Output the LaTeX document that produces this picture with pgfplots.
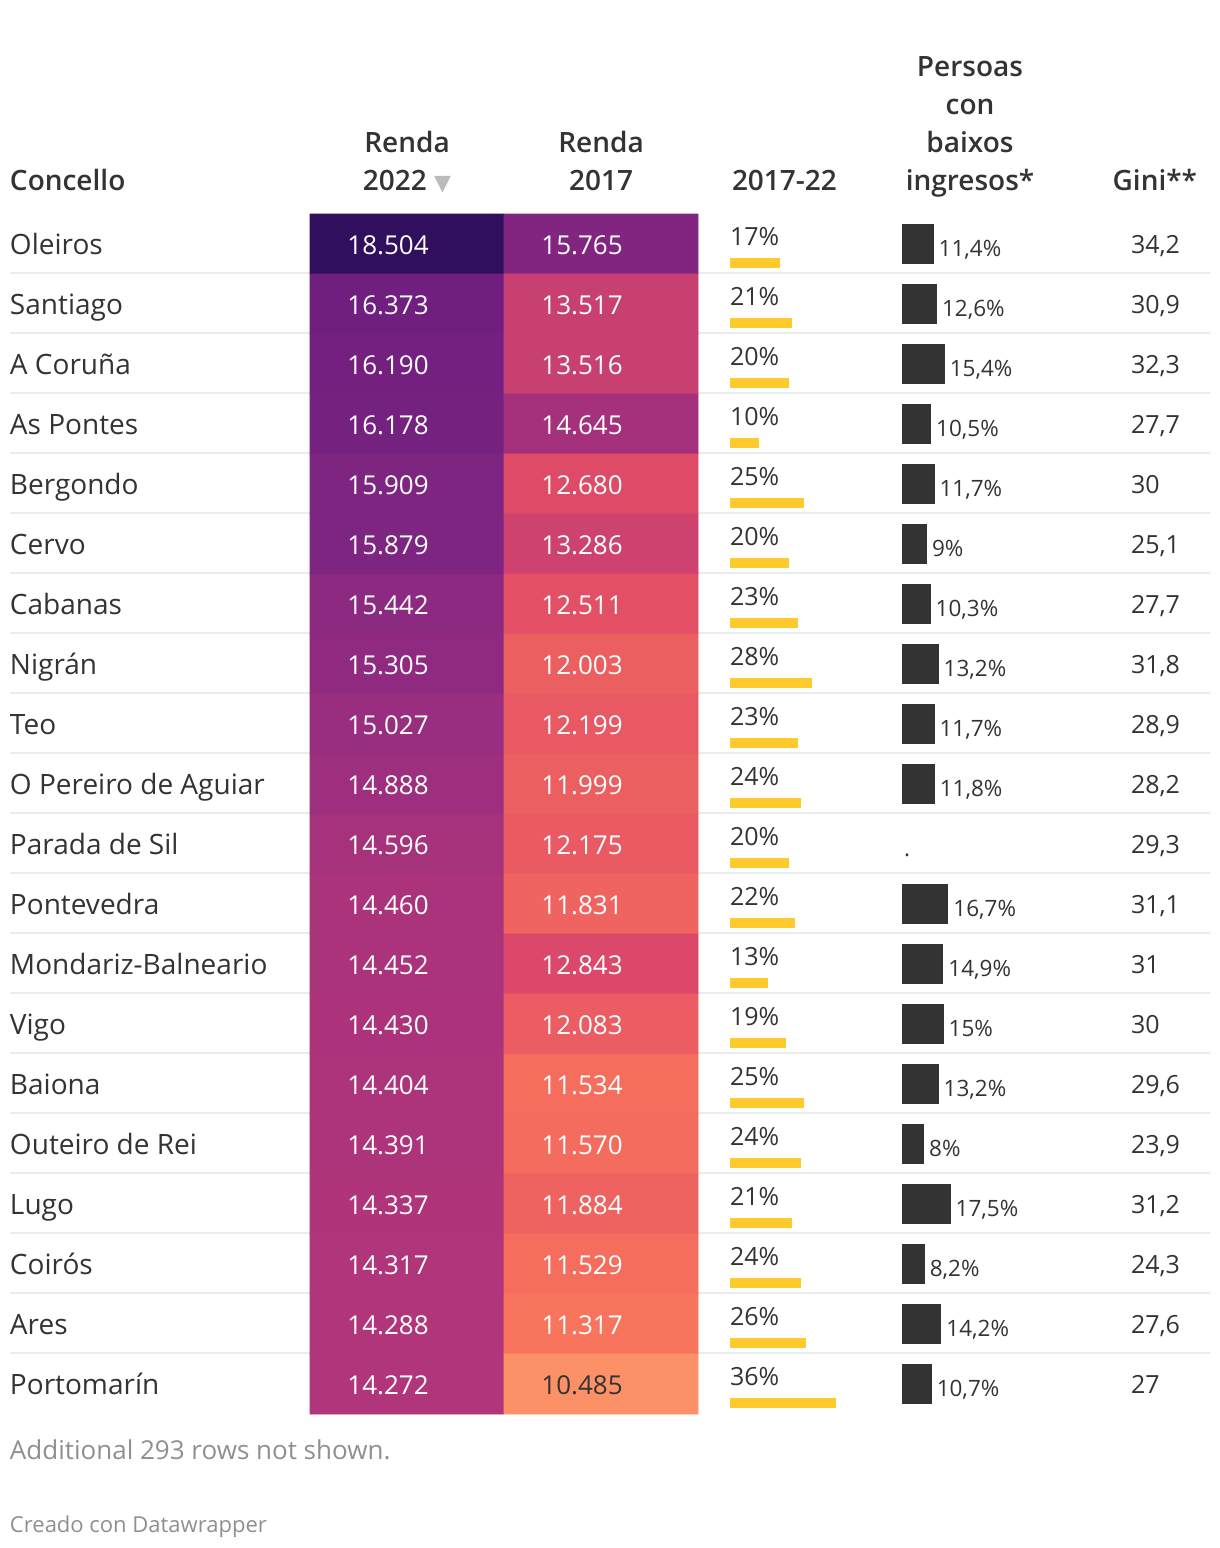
\documentclass[border=0pt]{standalone}
\usepackage{pgfplots}
\pgfplotsset{compat=1.18}
\usepackage{pgfplotstable}
\usepackage{fontspec}
\setmainfont{Open Sans}
\IfFontExistsTF{Open Sans SemiBold}{\newfontfamily\semib{Open Sans SemiBold}}{%
  \IfFontExistsTF{Open Sans Semibold}{\newfontfamily\semib{Open Sans Semibold}}{\newcommand\semib{\bfseries}}}
\newfontfamily\dejavu{DejaVu Sans}
\definecolor{dwtext}{HTML}{333333}
\definecolor{dwgray}{HTML}{8F8F8F}
\definecolor{dwsep}{HTML}{EBEBEB}
\definecolor{dwyellow}{HTML}{FFCA2E}
\definecolor{dwdark}{HTML}{333333}
\definecolor{dwtri}{HTML}{BBBBBB}
\newcommand\fsName{\fontsize{14}{16}\selectfont}
\newcommand\fsHeat{\fontsize{13}{15}\selectfont}
\newcommand\fsPct{\fontsize{12.5}{15}\selectfont}
\newcommand\fsLow{\fontsize{11.25}{13}\selectfont}
\newcommand\fsGini{\fontsize{12.5}{15}\selectfont}
\newcommand\fsHead{\semib\fontsize{14}{16}\selectfont}
\tikzset{txt/.style={inner sep=0pt, outer sep=0pt}}

\pgfplotstableread[col sep=semicolon]{
y;name;pct;low;gini
244;Oleiros;17;11.4;34.2
304;Santiago;21;12.6;30.9
364;A Coruña;20;15.4;32.3
424;As Pontes;10;10.5;27.7
484;Bergondo;25;11.7;30
544;Cervo;20;9;25.1
604;Cabanas;23;10.3;27.7
664;Nigrán;28;13.2;31.8
724;Teo;23;11.7;28.9
784;O Pereiro de Aguiar;24;11.8;28.2
844;Parada de Sil;20;nan;29.3
904;Pontevedra;22;16.7;31.1
964;Mondariz-Balneario;13;14.9;31
1024;Vigo;19;15;30
1084;Baiona;25;13.2;29.6
1144;Outeiro de Rei;24;8;23.9
1204;Lugo;21;17.5;31.2
1264;Coirós;24;8.2;24.3
1324;Ares;26;14.2;27.6
1384;Portomarín;36;10.7;27
}\maintab

\pgfplotstableread{
x y v
407 244 18504
601 244 15765
407 304 16373
601 304 13517
407 364 16190
601 364 13516
407 424 16178
601 424 14645
407 484 15909
601 484 12680
407 544 15879
601 544 13286
407 604 15442
601 604 12511
407 664 15305
601 664 12003
407 724 15027
601 724 12199
407 784 14888
601 784 11999
407 844 14596
601 844 12175
407 904 14460
601 904 11831
407 964 14452
601 964 12843
407 1024 14430
601 1024 12083
407 1084 14404
601 1084 11534
407 1144 14391
601 1144 11570
407 1204 14337
601 1204 11884
407 1264 14317
601 1264 11529
407 1324 14288
601 1324 11317
407 1384 14272
601 1384 10485
}\heattab

\begin{document}
\begin{tikzpicture}
\begin{axis}[
  x=0.5pt, y=0.5pt, y dir=reverse,
  xmin=0, xmax=1220, ymin=0, ymax=1548,
  scale only axis, hide axis, clip=false,
  colormap={dw}{rgb255(0cm)=(254,159,109); rgb255(1cm)=(247,112,92); rgb255(2cm)=(222,73,104); rgb255(3cm)=(183,55,121); rgb255(4cm)=(140,41,129); rgb255(5cm)=(100,26,128); rgb255(6cm)=(59,15,112); rgb255(7cm)=(20,14,54)},
  point meta min=10082, point meta max=19440,
]
% row separators
\addplot[xcomb, draw=dwsep, line width=1pt, mark=none, xshift=5pt,
  restrict expr to domain={\thisrow{y}}{0:1350}]
  table[x expr=1200, y expr=\thisrow{y}+29] \maintab;
% heatmap
\addplot[matrix plot*, mesh/cols=2, point meta=explicit]
  table[x=x, y=y, meta=v] \heattab;
% heat labels
\addplot[draw=none, mark=none, point meta=explicit,
  restrict expr to domain={\thisrow{v}}{11000:20000},
  nodes near coords={\pgfmathprintnumber[fixed,precision=0,1000 sep={.},assume math mode=true]{\pgfplotspointmeta}},
  every node near coord/.append style={txt, anchor=base, font=\fsHeat, text=white}]
  table[x expr=\thisrow{x}-19, y expr=\thisrow{y}+10, meta=v] \heattab;
\addplot[draw=none, mark=none, point meta=explicit,
  restrict expr to domain={\thisrow{v}}{0:11000},
  nodes near coords={\pgfmathprintnumber[fixed,precision=0,1000 sep={.},assume math mode=true]{\pgfplotspointmeta}},
  every node near coord/.append style={txt, anchor=base, font=\fsHeat, text=dwtext}]
  table[x expr=\thisrow{x}-19, y expr=\thisrow{y}+10, meta=v] \heattab;
% names
\addplot[draw=none, mark=none, point meta=explicit symbolic, nodes near coords,
  every node near coord/.append style={txt, anchor=base west, font=\fsName, text=dwtext}]
  table[x expr=10, y expr=\thisrow{y}+10, meta=name] \maintab;
% 2017-22 bars and labels
\addplot[xcomb, draw=dwyellow, line width=5pt, mark=none, xshift=365pt]
  table[x expr=2.94*\thisrow{pct}, y expr=\thisrow{y}+19] \maintab;
\addplot[draw=none, mark=none, point meta=explicit,
  nodes near coords={\pgfmathprintnumber[fixed,precision=0,assume math mode=true]{\pgfplotspointmeta}\%},
  every node near coord/.append style={txt, anchor=base west, font=\fsPct, text=dwtext}]
  table[x expr=730, y expr=\thisrow{y}+1, meta=pct] \maintab;
% low income bars and labels
\addplot[xcomb, draw=dwdark, line width=20pt, mark=none, xshift=451pt]
  table[x expr=2.78*\thisrow{low}, y=y] \maintab;
\addplot[draw=none, mark=none, point meta=explicit,
  nodes near coords={\pgfmathprintnumber[fixed,precision=1,use comma,assume math mode=true]{\pgfplotspointmeta}\%},
  every node near coord/.append style={txt, anchor=base west, font=\fsLow, text=dwtext}]
  table[x expr=907+2.78*\thisrow{low}, y expr=\thisrow{y}+12, meta=low] \maintab;
% gini
\addplot[draw=none, mark=none, point meta=explicit,
  nodes near coords={\pgfmathprintnumber[fixed,precision=1,use comma,assume math mode=true]{\pgfplotspointmeta}},
  every node near coord/.append style={txt, anchor=base west, font=\fsGini, text=dwtext}]
  table[x expr=1131, y expr=\thisrow{y}+9, meta=gini] \maintab;
% headers
\node[txt, anchor=base west, font=\fsHead, text=dwtext] at (axis cs:10,190) {Concello};
\node[txt, anchor=base, font=\fsHead, text=dwtext] at (axis cs:407,152) {Renda};
\node[txt, anchor=base, font=\fsHead, text=dwtext] at (axis cs:407,190) {2022 {\dejavu\fontsize{11}{12}\selectfont\color{dwtri}▼}};
\node[txt, anchor=base, font=\fsHead, text=dwtext] at (axis cs:601,152) {Renda};
\node[txt, anchor=base, font=\fsHead, text=dwtext] at (axis cs:601,190) {2017};
\node[txt, anchor=base west, font=\fsHead, text=dwtext] at (axis cs:732,190) {2017-22};
\node[txt, anchor=base, font=\fsHead, text=dwtext] at (axis cs:970,76) {Persoas};
\node[txt, anchor=base, font=\fsHead, text=dwtext] at (axis cs:970,114) {con};
\node[txt, anchor=base, font=\fsHead, text=dwtext] at (axis cs:970,152) {baixos};
\node[txt, anchor=base, font=\fsHead, text=dwtext] at (axis cs:970,190) {ingresos*};
\node[txt, anchor=base east, font=\fsHead, text=dwtext] at (axis cs:1197,190) {Gini**};
\node[txt, anchor=base west, font=\fsLow, text=dwtext] at (axis cs:904,856) {.};
% footer
\node[txt, anchor=base west, font=\fontsize{13}{15}\selectfont, text=dwgray] at (axis cs:10,1459) {Additional 293 rows not shown.};
\node[txt, anchor=base west, font=\fontsize{11}{13}\selectfont, text=dwgray] at (axis cs:10,1532) {Creado con Datawrapper};
\path (axis cs:0,0) rectangle (axis cs:1220,1548);
\end{axis}
\end{tikzpicture}
\end{document}
